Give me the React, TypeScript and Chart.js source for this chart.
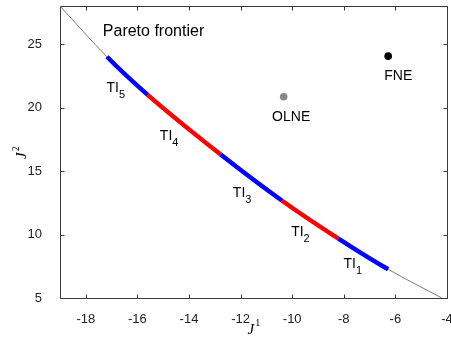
import React, { useEffect, useRef } from 'react';
import { Chart, registerables } from 'chart.js';

Chart.register(...registerables);

// Axis ranges and ticks
const xRange = [-19, -4];
const yRange = [5, 28];
const xTicks = [-18, -16, -14, -12, -10, -8, -6, -4];
const yTicks = [5, 10, 15, 20, 25];

// Pareto frontier (thin grey curve), passing through the TI boundaries
const frontierX = [-19, -17.18, -15.6, -12.77, -10.39, -8.21, -6.28, -4.2];
const frontierY = [28, 24.0, 21.0, 16.3, 12.66, 9.68, 7.26, 5.0];

// Colour of each frontier segment (null = not highlighted)
const segmentColors = [null, '#0000ff', '#ff0000', '#0000ff', '#ff0000', '#0000ff', null];

// TI labels
const tiIndex = ['5', '4', '3', '2', '1'];
const tiLabelX = [-17.2, -15.13, -12.3, -10.04, -8.01];
const tiLabelY = [21.25, 17.45, 12.98, 9.88, 7.39];

// Equilibria
const eqNames = ['OLNE', 'FNE'];
const eqX = [-10.33, -6.28];
const eqY = [20.85, 24.05];
const eqColors = ['#888888', '#000000'];
const eqLabelX = [-10.04, -5.89];
const eqLabelY = [18.97, 22.17];

// Title annotation
const frontierTitle = 'Pareto frontier';
const frontierTitleX = -17.34;
const frontierTitleY = 25.64;

const SANS = '"Liberation Sans", Arial, Helvetica, sans-serif';
const SERIF = '"Liberation Serif", "Times New Roman", serif';

const overlayPlugin = {
  id: 'overlay',
  beforeDatasetsDraw(chart: any) {
    const { ctx, chartArea: a, scales } = chart;
    const x = scales.x;
    const y = scales.y;
    const L = Math.round(a.left) + 0.5;
    const R = Math.round(a.right) + 0.5;
    const T = Math.round(a.top) + 0.5;
    const B = Math.round(a.bottom) + 0.5;
    ctx.save();
    ctx.strokeStyle = '#3a3a3a';
    ctx.lineWidth = 1;
    ctx.beginPath();
    ctx.rect(L, T, R - L, B - T);
    const tl = 4;
    xTicks.forEach((v) => {
      const px = Math.round(x.getPixelForValue(v)) + 0.5;
      ctx.moveTo(px, B);
      ctx.lineTo(px, B - tl);
      ctx.moveTo(px, T);
      ctx.lineTo(px, T + tl);
    });
    yTicks.forEach((v) => {
      const py = Math.round(y.getPixelForValue(v)) + 0.5;
      ctx.moveTo(L, py);
      ctx.lineTo(L + tl, py);
      ctx.moveTo(R, py);
      ctx.lineTo(R - tl, py);
    });
    ctx.stroke();
    ctx.restore();
  },
  afterDraw(chart: any) {
    const { ctx, chartArea: a, scales } = chart;
    const x = scales.x;
    const y = scales.y;
    ctx.save();
    ctx.fillStyle = '#000';
    ctx.textBaseline = 'alphabetic';

    // Pareto frontier title
    ctx.font = '16px ' + SANS;
    ctx.textAlign = 'left';
    ctx.fillText(frontierTitle, x.getPixelForValue(frontierTitleX), y.getPixelForValue(frontierTitleY));

    // TI labels
    tiIndex.forEach((idx, i) => {
      const px = x.getPixelForValue(tiLabelX[i]);
      const py = y.getPixelForValue(tiLabelY[i]);
      ctx.font = '14px ' + SANS;
      ctx.textAlign = 'left';
      ctx.fillText('TI', px, py);
      const w = ctx.measureText('TI').width;
      ctx.font = '11px ' + SANS;
      ctx.fillText(idx, px + w, py + 6);
    });

    // Equilibrium labels
    ctx.font = '14px ' + SANS;
    ctx.textAlign = 'center';
    eqNames.forEach((n, i) => {
      ctx.fillText(n, x.getPixelForValue(eqLabelX[i]), y.getPixelForValue(eqLabelY[i]));
    });

    // Axis titles
    const cx = (a.left + a.right) / 2;
    ctx.textAlign = 'left';
    ctx.font = 'italic 15px ' + SERIF;
    const jw = ctx.measureText('J').width;
    ctx.fillText('J', cx - 6, 334);
    ctx.font = '10px ' + SERIF;
    ctx.fillText('1', cx - 6 + jw + 1, 326);

    const cy = (a.top + a.bottom) / 2;
    ctx.translate(26, cy + 7);
    ctx.rotate(-Math.PI / 2);
    ctx.font = 'italic 15px ' + SERIF;
    ctx.fillText('J', 0, 0);
    ctx.font = '10px ' + SERIF;
    ctx.fillText('2', jw + 1, -7);
    ctx.restore();
  },
};

export default function App() {
  const ref = useRef<HTMLCanvasElement | null>(null);

  useEffect(() => {
    if (!ref.current) return;
    const frontier = frontierX.map((v, i) => ({ x: v, y: frontierY[i] }));
    const chart = new Chart(ref.current, {
      type: 'line',
      data: {
        datasets: [
          {
            label: 'equilibria',
            data: eqX.map((v, i) => ({ x: v, y: eqY[i] })),
            showLine: false,
            pointRadius: 3.8,
            pointBackgroundColor: eqColors,
            pointBorderColor: eqColors,
            pointBorderWidth: 0,
            order: 0,
          },
          {
            label: 'TI',
            data: frontier,
            borderWidth: 4.5,
            borderCapStyle: 'butt',
            pointRadius: 0,
            cubicInterpolationMode: 'monotone',
            borderColor: '#0000ff',
            segment: {
              borderColor: (c: any) => segmentColors[c.p0DataIndex] || 'rgba(0,0,0,0)',
            },
            order: 1,
          },
          {
            label: 'frontier',
            data: frontier,
            borderWidth: 1,
            borderColor: '#7a7a7a',
            pointRadius: 0,
            cubicInterpolationMode: 'monotone',
            order: 2,
          },
        ] as any,
      },
      options: {
        animation: false,
        responsive: false,
        events: [],
        layout: { padding: { top: 6, right: 3, left: 0, bottom: 0 } },
        plugins: {
          legend: { display: false },
          tooltip: { enabled: false },
          title: { display: false },
        },
        scales: {
          x: {
            type: 'linear',
            min: xRange[0],
            max: xRange[1],
            grid: { display: false },
            border: { display: false },
            ticks: {
              padding: 6,
              maxRotation: 0,
              autoSkip: false,
              color: '#222',
              font: { family: SANS, size: 13 },
            },
            afterBuildTicks: (s: any) => {
              s.ticks = xTicks.map((v) => ({ value: v }));
            },
            afterFit: (s: any) => {
              s.height = 41;
              s.paddingLeft = 0;
              s.paddingRight = 0;
            },
          },
          y: {
            type: 'linear',
            min: yRange[0],
            max: yRange[1],
            grid: { display: false },
            border: { display: false },
            ticks: {
              padding: 10,
              color: '#222',
              font: { family: SANS, size: 13 },
            },
            afterBuildTicks: (s: any) => {
              s.ticks = yTicks.map((v) => ({ value: v }));
            },
            afterFit: (s: any) => {
              s.width = 60;
              s.paddingTop = 0;
              s.paddingBottom = 0;
            },
          },
        },
      } as any,
      plugins: [overlayPlugin],
    });
    return () => chart.destroy();
  }, []);

  return (
    <div style={{ position: 'fixed', left: 0, top: 0, width: 451, height: 339, background: '#fff' }}>
      <canvas ref={ref} width={451} height={339} style={{ display: 'block' }} />
    </div>
  );
}
